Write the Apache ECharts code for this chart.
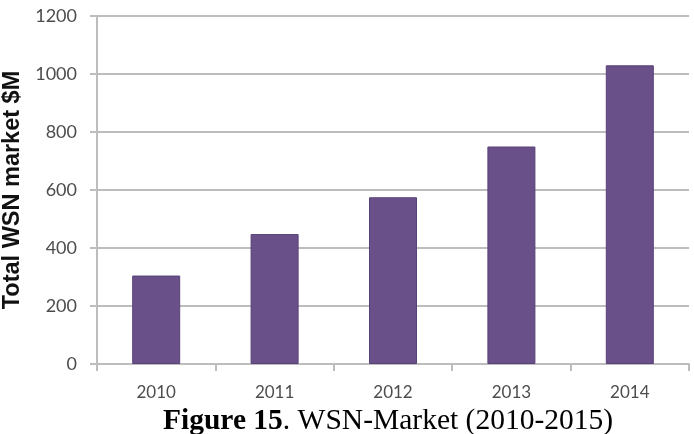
<!DOCTYPE html>
<html><head><meta charset="utf-8">
<script src="https://cdn.jsdelivr.net/npm/echarts@6/dist/echarts.min.js"></script>
<style>html,body{margin:0;padding:0;background:#fff}#c{width:694px;height:434px}</style>
</head><body><div id="c"></div>
<script>
const categories = ['2010', '2011', '2012', '2013', '2014'];
const marketValues = [305, 448, 575, 750, 1030];
const yTicks = [0, 200, 400, 600, 800, 1000, 1200];
const yAxisTitle = 'Total WSN market $M';
const captionBold = 'Figure 15';
const captionRest = '. WSN-Market (2010-2015)';

const chart = echarts.init(document.getElementById('c'));
chart.setOption({
  animation: false,
  backgroundColor: '#fff',
  grid: { left: 97, right: 5, top: 16, bottom: 70, containLabel: false, outerBoundsMode: 'none' },
  title: {
    text: '{b|' + captionBold + '}{r|' + captionRest + '}',
    left: 383, top: 401, textAlign: 'center',
    textStyle: {
      fontWeight: 'normal',
      rich: {
        b: { fontFamily: 'Liberation Serif', fontWeight: 'bold', fontSize: 29.5, color: '#000' },
        r: { fontFamily: 'Liberation Serif', fontWeight: 'normal', fontSize: 29.5, color: '#000' }
      }
    }
  },
  xAxis: {
    type: 'category', data: categories,
    axisLine: { lineStyle: { color: '#bdbdbd', width: 2 } },
    axisTick: { show: true, length: 7, lineStyle: { color: '#bdbdbd', width: 2 } },
    axisLabel: { color: '#4d4d4d', fontFamily: 'Lato', fontSize: 17, margin: 20 }
  },
  yAxis: {
    type: 'value', min: 0, max: 1200, interval: 200,
    name: yAxisTitle, nameLocation: 'middle', nameGap: 71, nameRotate: 90,
    nameTextStyle: { fontFamily: 'Liberation Sans', fontWeight: 'bold', fontSize: 23.5, color: '#111' },
    axisLine: { show: true, lineStyle: { color: '#bdbdbd', width: 2 } },
    axisTick: { show: true, length: 7, lineStyle: { color: '#bdbdbd', width: 2 } },
    axisLabel: { color: '#4d4d4d', fontFamily: 'Lato', fontSize: 18, margin: 20,
      formatter: v => yTicks.includes(v) ? String(v) : '' },
    splitLine: { lineStyle: { color: '#bdbdbd', width: 2 } }
  },
  series: [{
    type: 'bar', data: marketValues, barWidth: 48,
    itemStyle: { color: '#6a5089', borderColor: '#584078', borderWidth: 1 }
  }]
});
</script></body></html>
